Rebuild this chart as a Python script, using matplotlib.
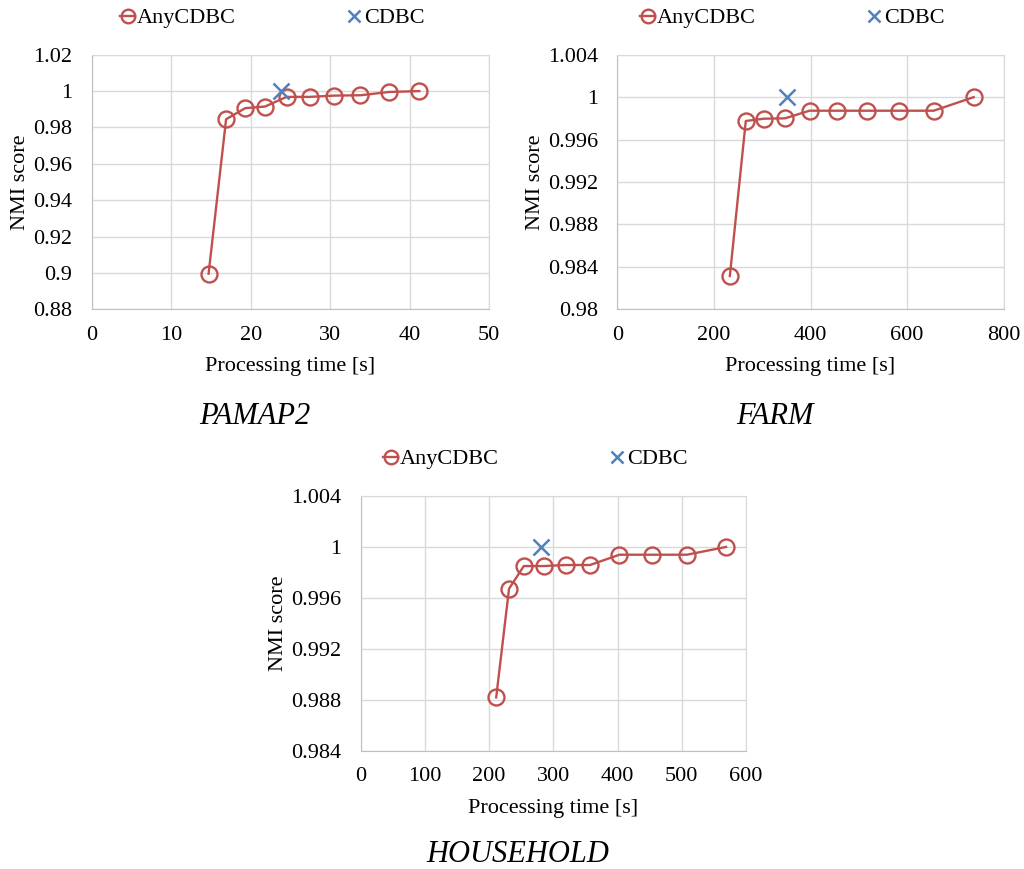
import numpy as np
import matplotlib
matplotlib.use('Agg')
import matplotlib.pyplot as plt
from matplotlib.ticker import FuncFormatter

plt.rcParams['font.family'] = ['Liberation Serif', 'DejaVu Serif']

# data
pamapTime = [14.7, 16.9, 19.3, 21.8, 24.5, 27.4, 30.5, 33.8, 37.4, 41.2]
pamapNmi = [0.8996, 0.9845, 0.9906, 0.9915, 0.9968, 0.9968, 0.9975, 0.9977, 0.9995, 1.0]
pamapCdbc = (23.8, 1.0)

farmTime = [233, 266, 304, 347, 398, 454, 516, 583, 655, 738]
farmNmi = [0.98314, 0.99775, 0.99797, 0.99800, 0.99872, 0.99872, 0.99872, 0.99872, 0.99872, 1.0]
farmCdbc = (351, 1.0)

houseTime = [211, 231, 254, 285, 319, 357, 403, 453, 508, 569]
houseNmi = [0.98819, 0.99672, 0.99850, 0.99850, 0.99858, 0.99858, 0.99939, 0.99939, 0.99939, 1.0]
houseCdbc = (281, 1.0)

titles = ['PAMAP2', 'FARM', 'HOUSEHOLD']
xTicks = [np.arange(0, 51, 10), np.arange(0, 801, 200), np.arange(0, 601, 100)]
yTicks = [np.linspace(0.88, 1.02, 8), np.linspace(0.98, 1.004, 7), np.linspace(0.984, 1.004, 6)]

red = '#C0504D'
blue = '#4F81BD'
grid = '#D9D9D9'
fs = 16

fig = plt.figure(figsize=(10.24, 8.69), dpi=100)

# axes boxes in pixels: left, top, right, bottom
boxes = [(91.7, 54.7, 489.3, 309.3), (617.3, 54.7, 1003.7, 309.3), (360.7, 496, 746, 750.7)]
series = [(pamapTime, pamapNmi, pamapCdbc), (farmTime, farmNmi, farmCdbc), (houseTime, houseNmi, houseCdbc)]
legendY = [18, 18, 459]
titleY = [417, 417, 855]

W, H = 1024, 869
for i, (box, (xs, ys, cd)) in enumerate(zip(boxes, series)):
  l, t, r, b = box
  ax = fig.add_axes([l / W, 1 - b / H, (r - l) / W, (b - t) / H])
  ax.plot(xs, ys, color=red, lw=1.7, marker='o', ms=11.5, mfc='none', mec=red, mew=1.7, label='AnyCDBC', zorder=3)
  ax.plot([cd[0]], [cd[1]], ls='none', marker='x', ms=11, mew=1.8, color=blue, label='CDBC', zorder=4)

  ax.set_xlim(xTicks[i][0], xTicks[i][-1])
  ax.set_ylim(yTicks[i][0], yTicks[i][-1])
  ax.set_xticks(xTicks[i])
  ax.set_yticks(yTicks[i])
  ax.yaxis.set_major_formatter(FuncFormatter(lambda v, p: '{:g}'.format(round(v, 4))))
  ax.grid(True, color=grid, lw=1)
  ax.set_axisbelow(True)
  for s in ax.spines.values():
    s.set_color(grid)
  ax.spines['left'].set_color('#BFBFBF')
  ax.spines['bottom'].set_color('#BFBFBF')
  ax.tick_params(axis='y', length=0, labelsize=fs, pad=14)
  ax.tick_params(axis='x', length=0, labelsize=fs, pad=12)
  ax.set_xlabel('Processing time [s]', fontsize=fs, labelpad=9)
  ax.set_ylabel('NMI score', fontsize=fs, labelpad=2)

  cx = (l + r) / 2 / W
  fig.legend(handles=ax.get_lines(), loc='center', bbox_to_anchor=(cx - 18 / W, 1 - legendY[i] / H),
             ncol=2, frameon=False, fontsize=fs, handlelength=0.65, handletextpad=0.1,
             columnspacing=5.0, markerscale=0.85, borderaxespad=0, borderpad=0)

  fig.text(cx - 36 / W, 1 - titleY[i] / H, titles[i], fontsize=22, style='italic', ha='center', va='center')

plt.savefig('out.png', dpi=100)
